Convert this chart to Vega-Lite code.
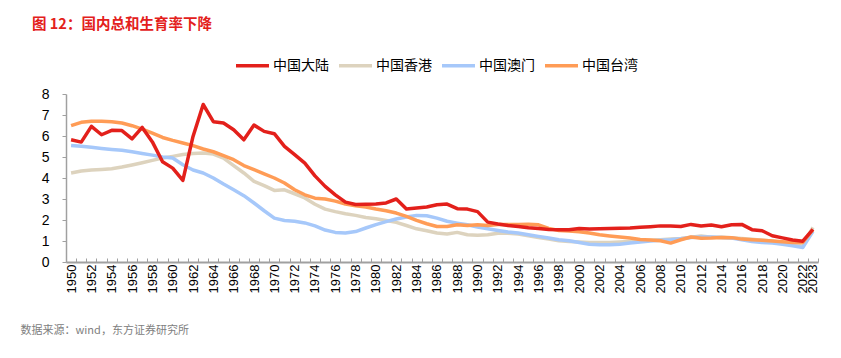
{
  "$schema": "https://vega.github.io/schema/vega-lite/v6.json",
  "width": 752,
  "height": 168,
  "autosize": {"type": "none"},
  "padding": {"left": 66, "top": 94, "right": 23, "bottom": 96},
  "background": "white",
  "title": {"text": "图 12：国内总和生育率下降", "anchor": "start", "frame": "group", "color": "#E3201B", "fontSize": 14.5, "font": "Noto Sans CJK SC", "fontWeight": "bold", "dx": -34, "dy": -11},
  "config": {"view": {"stroke": null}},
  "datasets": {
    "tfr": [
      {"year":1950,"s":"中国大陆","v":5.82},{"year":1951,"s":"中国大陆","v":5.71},{"year":1952,"s":"中国大陆","v":6.46},{"year":1953,"s":"中国大陆","v":6.06},{"year":1954,"s":"中国大陆","v":6.27},{"year":1955,"s":"中国大陆","v":6.26},{"year":1956,"s":"中国大陆","v":5.86},{"year":1957,"s":"中国大陆","v":6.41},{"year":1958,"s":"中国大陆","v":5.72},{"year":1959,"s":"中国大陆","v":4.77},{"year":1960,"s":"中国大陆","v":4.47},{"year":1961,"s":"中国大陆","v":3.89},{"year":1962,"s":"中国大陆","v":5.98},{"year":1963,"s":"中国大陆","v":7.5},{"year":1964,"s":"中国大陆","v":6.68},{"year":1965,"s":"中国大陆","v":6.62},{"year":1966,"s":"中国大陆","v":6.3},{"year":1967,"s":"中国大陆","v":5.82},{"year":1968,"s":"中国大陆","v":6.52},{"year":1969,"s":"中国大陆","v":6.22},{"year":1970,"s":"中国大陆","v":6.11},{"year":1971,"s":"中国大陆","v":5.51},{"year":1972,"s":"中国大陆","v":5.11},{"year":1973,"s":"中国大陆","v":4.71},{"year":1974,"s":"中国大陆","v":4.1},{"year":1975,"s":"中国大陆","v":3.6},{"year":1976,"s":"中国大陆","v":3.2},{"year":1977,"s":"中国大陆","v":2.85},{"year":1978,"s":"中国大陆","v":2.74},{"year":1979,"s":"中国大陆","v":2.75},{"year":1980,"s":"中国大陆","v":2.76},{"year":1981,"s":"中国大陆","v":2.81},{"year":1982,"s":"中国大陆","v":3.0},{"year":1983,"s":"中国大陆","v":2.52},{"year":1984,"s":"中国大陆","v":2.57},{"year":1985,"s":"中国大陆","v":2.62},{"year":1986,"s":"中国大陆","v":2.73},{"year":1987,"s":"中国大陆","v":2.76},{"year":1988,"s":"中国大陆","v":2.54},{"year":1989,"s":"中国大陆","v":2.52},{"year":1990,"s":"中国大陆","v":2.4},{"year":1991,"s":"中国大陆","v":1.9},{"year":1992,"s":"中国大陆","v":1.81},{"year":1993,"s":"中国大陆","v":1.74},{"year":1994,"s":"中国大陆","v":1.69},{"year":1995,"s":"中国大陆","v":1.63},{"year":1996,"s":"中国大陆","v":1.59},{"year":1997,"s":"中国大陆","v":1.55},{"year":1998,"s":"中国大陆","v":1.54},{"year":1999,"s":"中国大陆","v":1.54},{"year":2000,"s":"中国大陆","v":1.6},{"year":2001,"s":"中国大陆","v":1.57},{"year":2002,"s":"中国大陆","v":1.58},{"year":2003,"s":"中国大陆","v":1.6},{"year":2004,"s":"中国大陆","v":1.61},{"year":2005,"s":"中国大陆","v":1.62},{"year":2006,"s":"中国大陆","v":1.65},{"year":2007,"s":"中国大陆","v":1.68},{"year":2008,"s":"中国大陆","v":1.72},{"year":2009,"s":"中国大陆","v":1.72},{"year":2010,"s":"中国大陆","v":1.69},{"year":2011,"s":"中国大陆","v":1.79},{"year":2012,"s":"中国大陆","v":1.71},{"year":2013,"s":"中国大陆","v":1.76},{"year":2014,"s":"中国大陆","v":1.68},{"year":2015,"s":"中国大陆","v":1.77},{"year":2016,"s":"中国大陆","v":1.79},{"year":2017,"s":"中国大陆","v":1.54},{"year":2018,"s":"中国大陆","v":1.49},{"year":2019,"s":"中国大陆","v":1.25},{"year":2020,"s":"中国大陆","v":1.15},{"year":2021,"s":"中国大陆","v":1.05},{"year":2022,"s":"中国大陆","v":0.99},{"year":2023,"s":"中国大陆","v":1.55},
      {"year":1950,"s":"中国香港","v":4.24},{"year":1951,"s":"中国香港","v":4.33},{"year":1952,"s":"中国香港","v":4.38},{"year":1953,"s":"中国香港","v":4.41},{"year":1954,"s":"中国香港","v":4.44},{"year":1955,"s":"中国香港","v":4.52},{"year":1956,"s":"中国香港","v":4.62},{"year":1957,"s":"中国香港","v":4.73},{"year":1958,"s":"中国香港","v":4.84},{"year":1959,"s":"中国香港","v":4.95},{"year":1960,"s":"中国香港","v":5.03},{"year":1961,"s":"中国香港","v":5.12},{"year":1962,"s":"中国香港","v":5.17},{"year":1963,"s":"中国香港","v":5.19},{"year":1964,"s":"中国香港","v":5.14},{"year":1965,"s":"中国香港","v":4.95},{"year":1966,"s":"中国香港","v":4.59},{"year":1967,"s":"中国香港","v":4.24},{"year":1968,"s":"中国香港","v":3.84},{"year":1969,"s":"中国香港","v":3.64},{"year":1970,"s":"中国香港","v":3.41},{"year":1971,"s":"中国香港","v":3.44},{"year":1972,"s":"中国香港","v":3.25},{"year":1973,"s":"中国香港","v":3.05},{"year":1974,"s":"中国香港","v":2.75},{"year":1975,"s":"中国香港","v":2.52},{"year":1976,"s":"中国香港","v":2.4},{"year":1977,"s":"中国香港","v":2.3},{"year":1978,"s":"中国香港","v":2.22},{"year":1979,"s":"中国香港","v":2.12},{"year":1980,"s":"中国香港","v":2.06},{"year":1981,"s":"中国香港","v":1.98},{"year":1982,"s":"中国香港","v":1.89},{"year":1983,"s":"中国香港","v":1.74},{"year":1984,"s":"中国香港","v":1.58},{"year":1985,"s":"中国香港","v":1.49},{"year":1986,"s":"中国香港","v":1.38},{"year":1987,"s":"中国香港","v":1.33},{"year":1988,"s":"中国香港","v":1.41},{"year":1989,"s":"中国香港","v":1.3},{"year":1990,"s":"中国香港","v":1.27},{"year":1991,"s":"中国香港","v":1.3},{"year":1992,"s":"中国香港","v":1.37},{"year":1993,"s":"中国香港","v":1.37},{"year":1994,"s":"中国香港","v":1.33},{"year":1995,"s":"中国香港","v":1.25},{"year":1996,"s":"中国香港","v":1.17},{"year":1997,"s":"中国香港","v":1.09},{"year":1998,"s":"中国香港","v":1.01},{"year":1999,"s":"中国香港","v":0.98},{"year":2000,"s":"中国香港","v":0.95},{"year":2001,"s":"中国香港","v":0.93},{"year":2002,"s":"中国香港","v":0.93},{"year":2003,"s":"中国香港","v":0.93},{"year":2004,"s":"中国香港","v":0.95},{"year":2005,"s":"中国香港","v":0.98},{"year":2006,"s":"中国香港","v":1.0},{"year":2007,"s":"中国香港","v":1.03},{"year":2008,"s":"中国香港","v":1.06},{"year":2009,"s":"中国香港","v":1.1},{"year":2010,"s":"中国香港","v":1.12},{"year":2011,"s":"中国香港","v":1.18},{"year":2012,"s":"中国香港","v":1.24},{"year":2013,"s":"中国香港","v":1.18},{"year":2014,"s":"中国香港","v":1.18},{"year":2015,"s":"中国香港","v":1.15},{"year":2016,"s":"中国香港","v":1.12},{"year":2017,"s":"中国香港","v":1.08},{"year":2018,"s":"中国香港","v":1.04},{"year":2019,"s":"中国香港","v":1.0},{"year":2020,"s":"中国香港","v":0.92},{"year":2021,"s":"中国香港","v":0.85},{"year":2022,"s":"中国香港","v":0.75},{"year":2023,"s":"中国香港","v":1.65},
      {"year":1950,"s":"中国澳门","v":5.55},{"year":1951,"s":"中国澳门","v":5.51},{"year":1952,"s":"中国澳门","v":5.46},{"year":1953,"s":"中国澳门","v":5.41},{"year":1954,"s":"中国澳门","v":5.36},{"year":1955,"s":"中国澳门","v":5.32},{"year":1956,"s":"中国澳门","v":5.25},{"year":1957,"s":"中国澳门","v":5.17},{"year":1958,"s":"中国澳门","v":5.09},{"year":1959,"s":"中国澳门","v":5.0},{"year":1960,"s":"中国澳门","v":4.95},{"year":1961,"s":"中国澳门","v":4.63},{"year":1962,"s":"中国澳门","v":4.38},{"year":1963,"s":"中国澳门","v":4.24},{"year":1964,"s":"中国澳门","v":4.0},{"year":1965,"s":"中国澳门","v":3.71},{"year":1966,"s":"中国澳门","v":3.44},{"year":1967,"s":"中国澳门","v":3.16},{"year":1968,"s":"中国澳门","v":2.81},{"year":1969,"s":"中国澳门","v":2.44},{"year":1970,"s":"中国澳门","v":2.09},{"year":1971,"s":"中国澳门","v":1.98},{"year":1972,"s":"中国澳门","v":1.94},{"year":1973,"s":"中国澳门","v":1.86},{"year":1974,"s":"中国澳门","v":1.72},{"year":1975,"s":"中国澳门","v":1.52},{"year":1976,"s":"中国澳门","v":1.41},{"year":1977,"s":"中国澳门","v":1.38},{"year":1978,"s":"中国澳门","v":1.45},{"year":1979,"s":"中国澳门","v":1.62},{"year":1980,"s":"中国澳门","v":1.78},{"year":1981,"s":"中国澳门","v":1.92},{"year":1982,"s":"中国澳门","v":2.05},{"year":1983,"s":"中国澳门","v":2.14},{"year":1984,"s":"中国澳门","v":2.22},{"year":1985,"s":"中国澳门","v":2.2},{"year":1986,"s":"中国澳门","v":2.09},{"year":1987,"s":"中国澳门","v":1.94},{"year":1988,"s":"中国澳门","v":1.85},{"year":1989,"s":"中国澳门","v":1.77},{"year":1990,"s":"中国澳门","v":1.67},{"year":1991,"s":"中国澳门","v":1.58},{"year":1992,"s":"中国澳门","v":1.5},{"year":1993,"s":"中国澳门","v":1.43},{"year":1994,"s":"中国澳门","v":1.38},{"year":1995,"s":"中国澳门","v":1.3},{"year":1996,"s":"中国澳门","v":1.22},{"year":1997,"s":"中国澳门","v":1.14},{"year":1998,"s":"中国澳门","v":1.06},{"year":1999,"s":"中国澳门","v":1.01},{"year":2000,"s":"中国澳门","v":0.93},{"year":2001,"s":"中国澳门","v":0.85},{"year":2002,"s":"中国澳门","v":0.82},{"year":2003,"s":"中国澳门","v":0.82},{"year":2004,"s":"中国澳门","v":0.85},{"year":2005,"s":"中国澳门","v":0.9},{"year":2006,"s":"中国澳门","v":0.95},{"year":2007,"s":"中国澳门","v":1.0},{"year":2008,"s":"中国澳门","v":1.03},{"year":2009,"s":"中国澳门","v":1.06},{"year":2010,"s":"中国澳门","v":1.11},{"year":2011,"s":"中国澳门","v":1.17},{"year":2012,"s":"中国澳门","v":1.19},{"year":2013,"s":"中国澳门","v":1.19},{"year":2014,"s":"中国澳门","v":1.17},{"year":2015,"s":"中国澳门","v":1.14},{"year":2016,"s":"中国澳门","v":1.06},{"year":2017,"s":"中国澳门","v":0.98},{"year":2018,"s":"中国澳门","v":0.93},{"year":2019,"s":"中国澳门","v":0.9},{"year":2020,"s":"中国澳门","v":0.85},{"year":2021,"s":"中国澳门","v":0.77},{"year":2022,"s":"中国澳门","v":0.69},{"year":2023,"s":"中国澳门","v":1.46},
      {"year":1950,"s":"中国台湾","v":6.49},{"year":1951,"s":"中国台湾","v":6.65},{"year":1952,"s":"中国台湾","v":6.7},{"year":1953,"s":"中国台湾","v":6.7},{"year":1954,"s":"中国台湾","v":6.68},{"year":1955,"s":"中国台湾","v":6.62},{"year":1956,"s":"中国台湾","v":6.49},{"year":1957,"s":"中国台湾","v":6.33},{"year":1958,"s":"中国台湾","v":6.14},{"year":1959,"s":"中国台湾","v":5.93},{"year":1960,"s":"中国台湾","v":5.79},{"year":1961,"s":"中国台湾","v":5.67},{"year":1962,"s":"中国台湾","v":5.54},{"year":1963,"s":"中国台湾","v":5.38},{"year":1964,"s":"中国台湾","v":5.25},{"year":1965,"s":"中国台湾","v":5.06},{"year":1966,"s":"中国台湾","v":4.87},{"year":1967,"s":"中国台湾","v":4.59},{"year":1968,"s":"中国台湾","v":4.4},{"year":1969,"s":"中国台湾","v":4.2},{"year":1970,"s":"中国台湾","v":4.0},{"year":1971,"s":"中国台湾","v":3.76},{"year":1972,"s":"中国台湾","v":3.44},{"year":1973,"s":"中国台湾","v":3.2},{"year":1974,"s":"中国台湾","v":3.04},{"year":1975,"s":"中国台湾","v":3.0},{"year":1976,"s":"中国台湾","v":2.9},{"year":1977,"s":"中国台湾","v":2.76},{"year":1978,"s":"中国台湾","v":2.68},{"year":1979,"s":"中国台湾","v":2.62},{"year":1980,"s":"中国台湾","v":2.52},{"year":1981,"s":"中国台湾","v":2.44},{"year":1982,"s":"中国台湾","v":2.33},{"year":1983,"s":"中国台湾","v":2.17},{"year":1984,"s":"中国台湾","v":1.98},{"year":1985,"s":"中国台湾","v":1.82},{"year":1986,"s":"中国台湾","v":1.69},{"year":1987,"s":"中国台湾","v":1.69},{"year":1988,"s":"中国台湾","v":1.77},{"year":1989,"s":"中国台湾","v":1.74},{"year":1990,"s":"中国台湾","v":1.77},{"year":1991,"s":"中国台湾","v":1.74},{"year":1992,"s":"中国台湾","v":1.78},{"year":1993,"s":"中国台湾","v":1.78},{"year":1994,"s":"中国台湾","v":1.79},{"year":1995,"s":"中国台湾","v":1.8},{"year":1996,"s":"中国台湾","v":1.77},{"year":1997,"s":"中国台湾","v":1.6},{"year":1998,"s":"中国台湾","v":1.5},{"year":1999,"s":"中国台湾","v":1.48},{"year":2000,"s":"中国台湾","v":1.44},{"year":2001,"s":"中国台湾","v":1.38},{"year":2002,"s":"中国台湾","v":1.3},{"year":2003,"s":"中国台湾","v":1.24},{"year":2004,"s":"中国台湾","v":1.19},{"year":2005,"s":"中国台湾","v":1.14},{"year":2006,"s":"中国台湾","v":1.07},{"year":2007,"s":"中国台湾","v":1.05},{"year":2008,"s":"中国台湾","v":1.01},{"year":2009,"s":"中国台湾","v":0.9},{"year":2010,"s":"中国台湾","v":1.06},{"year":2011,"s":"中国台湾","v":1.19},{"year":2012,"s":"中国台湾","v":1.13},{"year":2013,"s":"中国台湾","v":1.14},{"year":2014,"s":"中国台湾","v":1.17},{"year":2015,"s":"中国台湾","v":1.16},{"year":2016,"s":"中国台湾","v":1.09},{"year":2017,"s":"中国台湾","v":1.06},{"year":2018,"s":"中国台湾","v":1.03},{"year":2019,"s":"中国台湾","v":1.0},{"year":2020,"s":"中国台湾","v":0.97},{"year":2021,"s":"中国台湾","v":0.93},{"year":2022,"s":"中国台湾","v":0.93},{"year":2023,"s":"中国台湾","v":1.54}
    ]
  },
  "data": {"name": "tfr"},
  "encoding": {
    "x": {
      "field": "year", "type": "ordinal",
      "scale": {"type": "band", "paddingInner": 0, "paddingOuter": 0},
      "axis": {
        "title": "数据来源：wind，东方证券研究所",
        "titleX": -46, "titleY": 68, "titleAlign": "left", "titleBaseline": "middle",
        "titleFont": "Noto Sans CJK SC", "titleFontSize": 11, "titleFontWeight": "normal", "titleColor": "#808080",
        "labelExpr": "(datum.value % 2 == 0 || datum.value == 2023) ? datum.label : ''",
        "labelAngle": 270, "labelAlign": "right", "labelBaseline": "middle",
        "labelFont": "Liberation Sans", "labelFontSize": 13, "labelColor": "#000000", "labelPadding": 6,
        "labelOverlap": false,
        "tickBand": "extent", "tickSize": -4, "tickColor": "#A0A0A0", "tickWidth": 1,
        "domainColor": "#A0A0A0", "domainWidth": 2, "grid": false
      }
    },
    "y": {
      "field": "v", "type": "quantitative",
      "scale": {"domain": [0, 8], "nice": false, "zero": true},
      "axis": {
        "title": null, "values": [0,1,2,3,4,5,6,7,8], "grid": false,
        "labelFont": "Liberation Sans", "labelFontSize": 14, "labelColor": "#000000", "labelPadding": 13,
        "tickSize": 4, "tickColor": "#A0A0A0", "domainColor": "#A0A0A0", "domainWidth": 1.5
      }
    },
    "color": {
      "field": "s", "type": "nominal",
      "scale": {"domain": ["中国大陆", "中国香港", "中国澳门", "中国台湾"], "range": ["#E3201B", "#DDD3BE", "#A6C8FA", "#FF9C56"]},
      "legend": {
        "title": null, "orient": "none", "direction": "horizontal", "legendX": 168, "legendY": -47,
        "symbolType": "stroke", "symbolSize": 1089, "symbolStrokeWidth": 3.5, "symbolOffset": 0,
        "labelFont": "Noto Sans CJK SC", "labelFontSize": 14, "labelColor": "#000000", "labelOffset": 2,
        "columnPadding": 3
      }
    }
  },
  "layer": [
    {"transform": [{"filter": "datum.s == '中国香港'"}], "mark": {"type": "line", "strokeWidth": 3.5, "strokeJoin": "round"}},
    {"transform": [{"filter": "datum.s == '中国澳门'"}], "mark": {"type": "line", "strokeWidth": 3.5, "strokeJoin": "round"}},
    {"transform": [{"filter": "datum.s == '中国台湾'"}], "mark": {"type": "line", "strokeWidth": 3.5, "strokeJoin": "round"}},
    {"transform": [{"filter": "datum.s == '中国大陆'"}], "mark": {"type": "line", "strokeWidth": 3.5, "strokeJoin": "round"}}
  ]
}
